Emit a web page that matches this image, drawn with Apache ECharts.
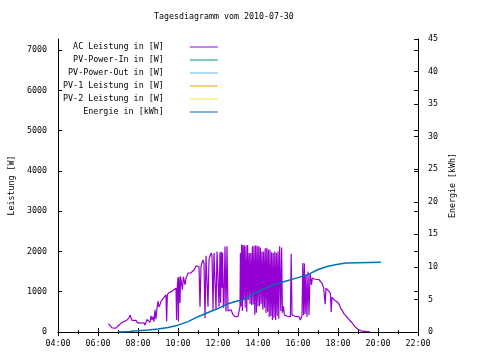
<!DOCTYPE html>
<html>
<head>
<meta charset="utf-8">
<script src="https://cdn.jsdelivr.net/npm/echarts@6/dist/echarts.min.js"></script>
<style>html,body{margin:0;padding:0;background:#fff}#c{width:480px;height:360px}</style>
</head>
<body>
<div id="c"></div>
<script>
const titleText = 'Tagesdiagramm vom 2010-07-30';
const seriesNames = ['AC Leistung in [W]', 'PV-Power-In in [W]', 'PV-Power-Out in [W]', 'PV-1 Leistung in [W]', 'PV-2 Leistung in [W]', 'Energie in [kWh]'];
const seriesColors = ['#9400d3', '#009e73', '#56b4e9', '#e69f00', '#f0e442', '#0072b2'];
const leftAxisName = 'Leistung [W]';
const rightAxisName = 'Energie [kWh]';

// [hour of day, W]
const acPower = [
 [6.52,210],[6.6,180],[6.7,100],[6.8,90],[6.9,95],[7.0,150],[7.1,130],[7.15,220],[7.2,180],[7.3,260],
 [7.35,230],[7.45,300],[7.5,280],[7.55,350],[7.6,420],[7.65,380],[7.7,290],[7.8,270],[7.9,290],[7.95,240],
 [8.0,260],[8.1,220],[8.2,180],[8.3,230],[8.35,170],[8.45,310],[8.5,290],[8.55,320],[8.6,240],[8.65,400],
 [8.7,300],[8.75,380],[8.8,260],[8.85,550],[8.9,320],[8.95,600],[9.0,770],
 [9.05,620],[9.1,680],[9.15,760],[9.2,800],[9.25,800],[9.3,860],[9.35,900],[9.4,920],[9.43,260],
 [9.47,930],[9.5,960],[9.55,980],[9.6,990],[9.7,1010],[9.8,1040],[9.9,1090],[9.93,300],[9.96,1100],
 [10.0,1350],[10.02,260],[10.05,1370],[10.1,720],[10.13,1380],
 [10.18,1380],[10.22,1050],[10.27,1370],[10.3,1300],[10.35,1170],[10.4,1340],[10.45,1400],[10.5,1460],
 [10.55,1450],[10.6,1480],[10.65,1470],[10.7,1490],[10.75,1500],[10.8,1540],[10.85,1590],[10.9,1640],
 [10.95,1620],[11.0,1640],[11.05,1620],[11.1,630],[11.15,1640],[11.2,1660],[11.25,1790],[11.3,1700],
 [11.35,340],[11.4,1890],[11.45,1880],[11.5,630],[11.55,1800],[11.6,1790],[11.65,1960],[11.7,1900],
 [11.75,550],[11.8,1960],[11.85,1960],[11.9,550],[11.95,2000],[12.0,2000],[12.05,630],
 [12.1,1980],[12.13,720],[12.17,1990],[12.2,1100],[12.23,1970],[12.27,600],[12.3,700],[12.35,2120],
 [12.4,510],[12.45,2130],[12.5,520],[12.55,560],[12.6,530],[12.65,550],[12.7,510],[12.75,430],
 [12.8,420],[12.85,380],[12.9,400],[12.95,370],[13.0,390],[13.05,420],[13.1,630],
 [13.12,1960],[13.15,640],[13.18,2170],[13.22,520],[13.25,2160],[13.28,800],[13.32,2150],[13.36,600],
 [13.4,2150],[13.44,500],[13.48,2160],[13.52,800],[13.56,1960],[13.6,700],[13.64,1960],[13.68,670],
 [13.72,2130],[13.76,680],[13.8,2140],[13.84,430],[13.88,2150],[13.92,480],[13.96,2140],[14.0,640],
 [14.04,2130],[14.08,640],[14.12,2100],[14.16,700],[14.2,2000],[14.24,550],[14.28,2000],[14.32,600],
 [14.36,2080],[14.4,470],[14.44,2090],[14.48,500],[14.52,2050],[14.56,370],[14.6,2040],[14.64,400],
 [14.68,1980],[14.72,300],[14.76,1960],[14.8,350],[14.84,2000],[14.88,300],[14.92,1960],[14.96,400],
 [15.0,2000],[15.04,330],[15.08,2130],
 [15.1,2130],[15.14,520],[15.18,2100],[15.22,480],[15.27,640],[15.32,420],[15.4,400],[15.48,390],
 [15.55,400],[15.62,380],[15.66,1940],[15.7,420],[15.75,400],[15.85,390],[15.95,400],[16.05,380],
 [16.12,300],[16.16,290],[16.2,400],[16.24,1710],[16.28,420],[16.32,1700],[16.36,450],[16.4,1420],
 [16.45,370],[16.5,1500],[16.55,420],[16.6,1460],[16.63,1380],[16.67,1170],[16.72,1340],[16.75,1300],
 [16.85,1310],[16.95,1300],[17.05,1300],[17.12,1260],[17.2,1210],[17.28,1100],[17.33,1090],[17.36,690],
 [17.4,1090],[17.45,1080],[17.55,1010],[17.62,960],[17.66,500],[17.7,860],[17.77,840],[17.85,780],
 [17.93,750],[18.0,730],[18.08,660],[18.12,600],
 [18.15,560],[18.22,530],[18.3,450],[18.4,400],[18.5,340],[18.6,300],[18.7,230],[18.78,175],
 [18.88,117],[19.0,70],[19.1,35],[19.2,20],[19.3,5],[19.6,5]
];

// [hour of day, kWh]
const energy = [
 [7.0,0],[7.5,0.02],[7.75,0.15],[8.0,0.18],[8.5,0.3],[9.0,0.45],[9.5,0.7],[10.0,1.05],[10.5,1.6],
 [11.0,2.35],[11.5,3.0],[12.0,3.6],[12.5,4.35],[13.0,4.8],[13.2,4.85],[13.5,5.35],[14.0,6.25],
 [14.5,6.9],[15.0,7.45],[15.5,7.9],[16.0,8.35],[16.5,8.8],[17.0,9.6],[17.5,10.1],[18.0,10.4],
 [18.4,10.6],[18.5,10.7],[20.15,10.7]
];
const emptySeries = [];

const FONT = 'DejaVu Sans Mono';
const FS = 8.3;
const chart = echarts.init(document.getElementById('c'), null, {renderer: 'canvas'});
const hourFmt = v => (v < 10 ? '0' : '') + v + ':00';
const axisLineStyle = {show: true, lineStyle: {color: '#000', width: 1}};

const allData = [acPower, emptySeries, emptySeries, emptySeries, emptySeries, energy];

chart.setOption({
  animation: false,
  backgroundColor: '#fff',
  title: {
    text: titleText, left: 154, top: 13, padding: 0,
    textStyle: {fontFamily: FONT, fontSize: FS, fontWeight: 'normal', color: '#000'}
  },
  legend: {
    orient: 'vertical', align: 'right', left: 63, top: 42, padding: 0,
    itemGap: 3, itemWidth: 28, itemHeight: 1, icon: 'rect',
    data: seriesNames,
    textStyle: {fontFamily: FONT, fontSize: 8.4, color: '#000', lineHeight: 10, padding: [0, 21, 0, 0]}
  },
  grid: {left: 58, right: 62, top: 39, bottom: 28, outerBoundsMode: 'none', containLabel: false},
  xAxis: [{
    type: 'value', min: 4, max: 22, interval: 2, position: 'bottom',
    axisLine: axisLineStyle,
    axisTick: {show: true, inside: true, length: 4, lineStyle: {color: '#000'}},
    minorTick: {show: true, splitNumber: 2, length: 2, lineStyle: {color: '#000'}},
    splitLine: {show: false},
    axisLabel: {formatter: hourFmt, fontFamily: FONT, fontSize: FS, color: '#000', margin: 8}
  }, {
    type: 'value', min: 4, max: 22, interval: 2, position: 'top',
    axisLine: axisLineStyle,
    axisTick: {show: true, inside: true, length: 4, lineStyle: {color: '#000'}},
    minorTick: {show: true, splitNumber: 2, length: 2, lineStyle: {color: '#000'}},
    splitLine: {show: false}, axisLabel: {show: false}
  }],
  yAxis: [{
    type: 'value', min: 0, max: 7275, interval: 1000, position: 'left',
    name: leftAxisName, nameLocation: 'middle', nameRotate: 90, nameGap: 41,
    nameTextStyle: {fontFamily: FONT, fontSize: FS, color: '#000'},
    axisLine: axisLineStyle,
    axisTick: {show: true, inside: true, length: 4, lineStyle: {color: '#000'}},
    splitLine: {show: false},
    axisLabel: {formatter: v => (v % 1000 === 0 ? String(v) : ''), showMaxLabel: false, fontFamily: FONT, fontSize: FS, color: '#000', margin: 11}
  }, {
    type: 'value', min: 0, max: 45, interval: 5, position: 'right',
    name: rightAxisName, nameLocation: 'middle', nameRotate: 90, nameGap: 29,
    nameTextStyle: {fontFamily: FONT, fontSize: FS, color: '#000'},
    axisLine: axisLineStyle,
    axisTick: {show: true, inside: true, length: 4, lineStyle: {color: '#000'}},
    splitLine: {show: false},
    axisLabel: {fontFamily: FONT, fontSize: FS, color: '#000', margin: 10}
  }, {
    type: 'value', min: 0, max: 7275, interval: 1000, position: 'right',
    axisLine: {show: false},
    axisTick: {show: true, inside: true, length: 4, lineStyle: {color: '#000'}},
    splitLine: {show: false}, axisLabel: {show: false}
  }],
  series: seriesNames.map((name, i) => ({
    name: name, type: 'line',
    yAxisIndex: i === 5 ? 1 : 0,
    data: allData[i],
    showSymbol: false, symbol: 'none',
    color: seriesColors[i],
    lineStyle: {color: seriesColors[i], width: i === 5 ? 1.5 : 1.2},
    z: i === 5 ? 3 : 2
  }))
});
</script>
</body>
</html>
